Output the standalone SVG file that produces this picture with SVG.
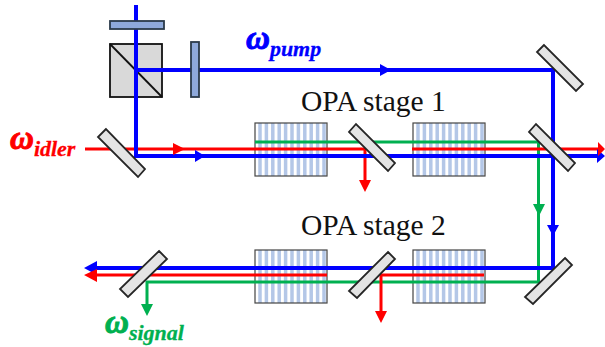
<svg xmlns="http://www.w3.org/2000/svg" width="605" height="347" viewBox="0 0 605 347">
<style>
.m{fill:#e4e4e4;stroke:#262626;stroke-width:1.8}
.p{fill:#8ea9db;stroke:#2b3a4a;stroke-width:1.8}
.b{stroke:#0000ff;stroke-width:4;fill:none}
.r{stroke:#ff0000;stroke-width:3;fill:none}
.g{stroke:#00b050;stroke-width:3;fill:none}
.s{stroke:#b4c7e7;stroke-width:3.5}
.f{fill:none;stroke:#444;stroke-width:1.2}
.t{font-family:"Liberation Serif",serif;font-size:29.5px;fill:#111}
.w{font-family:"Liberation Serif",serif;font-style:italic;font-weight:bold;font-size:33px}
.o{stroke-width:1}
.u{font-size:22px;stroke-width:.3}
</style>
<defs>
<path id="stripes" class="s" d="M5 0V53M11.400 0V53M17.800 0V53M24.200 0V53M30.600 0V53M37 0V53M43.400 0V53M49.800 0V53M56.200 0V53M62.600 0V53M69 0V53"/>
<g id="crystal"><rect width="72" height="53" fill="#fff"/><use href="#stripes"/><rect class="f" width="72" height="53"/></g>
</defs>
<g id="crystal-1"><use href="#crystal" x="255" y="123"/></g>
<g id="crystal-2"><use href="#crystal" x="413" y="123"/></g>
<g id="crystal-3"><use href="#crystal" x="255" y="250"/></g>
<g id="crystal-4"><use href="#crystal" x="413" y="250"/></g>
<g id="cube"><rect x="110" y="44" width="52" height="53" fill="#d9d9d9" stroke="#111" stroke-width="1.8"/><path d="M110 44L162 97" stroke="#111" stroke-width="1.8"/></g>
<g id="connectors">
<path class="g" d="M255 142H538.500V282H147V306"/>
<path class="r" d="M85 149H327M327 149H365V182M412 149H598"/>
<path class="r" d="M484 275H381V312M327 275H95"/>
<path class="b" d="M136 5V156H598M136 70H553V268H95"/>
<path fill="#0000ff" d="M380 64L391 70L380 76ZM195 150L205 156L195 162ZM597 149L605 156L597 163ZM547 225H559L553 236ZM84 268L97 261V275Z"/>
<path fill="#ff0000" d="M173 143L185 149L173 155ZM598 142L605 149L598 156ZM84 275L97 269V282ZM359 180H371L365 192ZM375 311H387L381 323Z"/>
<path fill="#00b050" d="M533 204H545L539 216ZM141 304H153L147 316Z"/>
</g>
<g id="plate-1"><rect class="p" x="110" y="21" width="54" height="8"/></g>
<g id="plate-2"><rect class="p" x="191" y="42" width="8" height="55"/></g>
<g id="mirror-1"><path class="m" d="M106 129L98 137L138 177L145 169Z"/></g>
<g id="mirror-2"><path class="m" d="M356 124L349 132L388 171L395 163Z"/></g>
<g id="mirror-3"><path class="m" d="M536 124L529 132L568 171L575 163Z"/></g>
<g id="mirror-4"><path class="m" d="M544 45L537 52L576 91L583 84Z"/></g>
<g id="mirror-5"><path class="m" d="M565 258L572 265L533 304L525 297Z"/></g>
<g id="mirror-6"><path class="m" d="M388 252L395 259L357 298L349 291Z"/></g>
<g id="mirror-7"><path class="m" d="M159 251L167 259L128 297L120 289Z"/></g>
<g id="labels">
<text class="t" x="301" y="111">OPA stage 1</text>
<text class="t" x="301" y="235">OPA stage 2</text>
<text class="w" x="246" y="49" fill="#0000ff" stroke="#0000ff"><tspan class="o">ω</tspan><tspan class="u" dy="7">pump</tspan></text>
<text class="w" x="10" y="149" fill="#ff0000" stroke="#ff0000"><tspan class="o">ω</tspan><tspan class="u" dy="7">idler</tspan></text>
<text class="w" x="105" y="333" fill="#00b050" stroke="#00b050"><tspan class="o">ω</tspan><tspan class="u" dy="7">signal</tspan></text>
</g>
</svg>
